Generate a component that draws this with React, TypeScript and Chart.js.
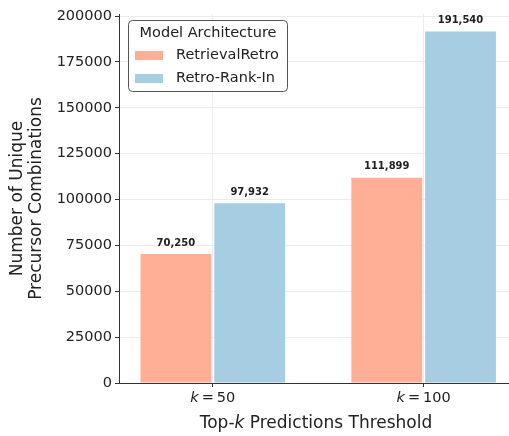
import React, { useEffect, useRef } from "react";
import { Chart, registerables } from "chart.js";

Chart.register(...registerables);

const categories = ["50", "100"];
const seriesNames = ["RetrievalRetro", "Retro-Rank-In"];
const retrievalRetro = [70250, 111899];
const retroRankIn = [97932, 191540];
const yTicks = [0, 25000, 50000, 75000, 100000, 125000, 150000, 175000, 200000];
const colors = ["#FFAF96", "#A6CDE2"];

const FONT = "'DejaVu Sans', 'Liberation Sans', sans-serif";
const TEXT = "#222";

const labelPlugin = {
  id: "customText",
  afterDraw(chart: any) {
    const ctx = chart.ctx as CanvasRenderingContext2D;
    const area = chart.chartArea;
    const xs = chart.scales.x;
    ctx.save();
    ctx.fillStyle = TEXT;
    ctx.textBaseline = "middle";

    // value labels
    ctx.font = `bold 10px ${FONT}`;
    ctx.textAlign = "center";
    chart.data.datasets.forEach((ds: any, i: number) => {
      const meta = chart.getDatasetMeta(i);
      meta.data.forEach((el: any, j: number) => {
        const v = ds.data[j].y as number;
        ctx.fillText(v.toLocaleString("en-US"), el.x, el.y - 11);
      });
    });

    // mixed italic / regular text, with optional extra gaps
    const drawMixed = (parts: [string, boolean, number][], cx: number, cy: number, size: number) => {
      let total = 0;
      const widths = parts.map(([t, it, gap]) => {
        ctx.font = `${it ? "italic " : ""}${size}px ${FONT}`;
        const w = ctx.measureText(t).width + gap;
        total += w;
        return w;
      });
      let x = cx - total / 2;
      ctx.textAlign = "left";
      parts.forEach(([t, it], i) => {
        ctx.font = `${it ? "italic " : ""}${size}px ${FONT}`;
        ctx.fillText(t, x, cy);
        x += widths[i];
      });
    };
    categories.forEach((c, i) => {
      const px = xs.getPixelForValue(i);
      drawMixed([["k", true, 3], ["=", false, 3], [c, false, 0]], px, 398, 14.5);
    });

    // x title
    drawMixed(
      [["Top-", false, 0], ["k", true, 0], [" Predictions Threshold", false, 0]],
      (area.left + area.right) / 2 + 2,
      424,
      17
    );

    // y title
    ctx.save();
    ctx.translate(0, (area.top + area.bottom) / 2);
    ctx.rotate(-Math.PI / 2);
    ctx.textAlign = "center";
    ctx.font = `17px ${FONT}`;
    ctx.fillText("Number of Unique", 0, 18);
    ctx.fillText("Precursor Combinations", 0, 37);
    ctx.restore();

    // legend
    const lx = 128, ly = 20, lw = 159, lh = 71;
    ctx.beginPath();
    (ctx as any).roundRect(lx + 0.5, ly + 0.5, lw, lh, 4);
    ctx.fillStyle = "rgba(255,255,255,0.85)";
    ctx.fill();
    ctx.strokeStyle = "#555";
    ctx.lineWidth = 1;
    ctx.stroke();
    ctx.fillStyle = TEXT;
    ctx.font = `14.5px ${FONT}`;
    ctx.textAlign = "center";
    ctx.fillText("Model Architecture", lx + lw / 2 + 0.5, 33);
    ctx.textAlign = "left";
    seriesNames.forEach((n, i) => {
      const cy = 55 + i * 23;
      ctx.fillStyle = colors[i];
      ctx.fillRect(135, cy - 4, 28, 9);
      ctx.fillStyle = TEXT;
      ctx.fillText(n, 176, cy);
    });
    ctx.restore();
  },
};

export default function App() {
  const ref = useRef<HTMLCanvasElement>(null);
  useEffect(() => {
    if (!ref.current) return;
    const mk = (arr: number[]) => arr.map((y, i) => ({ x: i, y }));
    const chart = new Chart(ref.current, {
      type: "bar",
      data: {
        datasets: [
          {
            label: seriesNames[0],
            data: mk(retrievalRetro),
            backgroundColor: colors[0],
            categoryPercentage: 0.7,
            barPercentage: 0.96,
          },
          {
            label: seriesNames[1],
            data: mk(retroRankIn),
            backgroundColor: colors[1],
            categoryPercentage: 0.7,
            barPercentage: 0.96,
          },
        ] as any,
      },
      options: {
        responsive: false,
        animation: false,
        layout: { padding: { top: 14, right: 0, left: 0, bottom: 0 } },
        plugins: { legend: { display: false }, tooltip: { enabled: false } },
        scales: {
          x: {
            type: "linear",
            min: -0.445,
            max: 1.405,
            offset: false,
            afterBuildTicks: (s: any) => {
              s.ticks = categories.map((_, i) => ({ value: i }));
            },
            afterFit: (s: any) => {
              s.height = 53;
            },
            ticks: { display: false },
            grid: { offset: false, color: "#ececec", tickColor: "#333", tickLength: 4, drawTicks: true },
            border: { color: "#333", width: 1 },
          },
          y: {
            min: 0,
            max: 201117,
            afterBuildTicks: (s: any) => {
              s.ticks = yTicks.map((v) => ({ value: v }));
            },
            afterFit: (s: any) => {
              s.width = 119;
            },
            ticks: {
              color: TEXT,
              font: { family: FONT, size: 14.5 },
              padding: 3,
              callback: (v: any) => String(v),
            },
            grid: { color: "#ececec", tickColor: "#333", tickLength: 4 },
            border: { color: "#333", width: 1 },
          },
        },
      } as any,
      plugins: [labelPlugin],
    });
    return () => chart.destroy();
  }, []);
  return (
    <div style={{ position: "absolute", left: 0, top: 0, width: 509, height: 436, background: "#fff" }}>
      <canvas ref={ref} width={509} height={436} style={{ display: "block" }} />
    </div>
  );
}
